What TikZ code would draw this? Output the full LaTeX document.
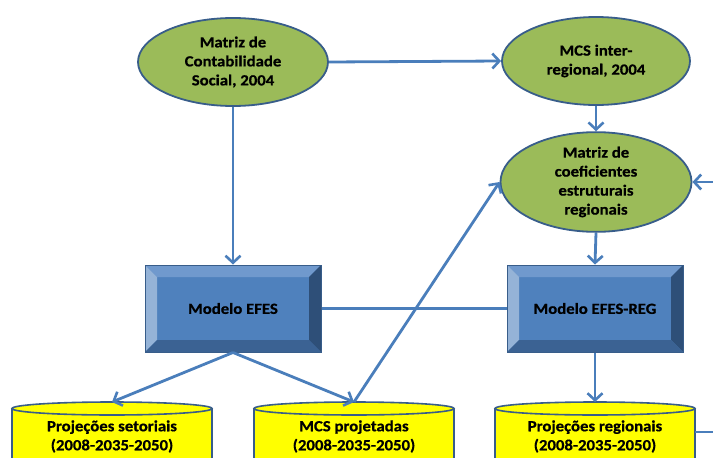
\documentclass[tikz,border=0pt]{standalone}
\usepackage{fontspec}
\setmainfont{Carlito}[BoldFeatures={FakeStretch=1.08,FakeBold=0.6}]
\usetikzlibrary{shapes.geometric,arrows.meta}
\definecolor{olv}{HTML}{9BBB59}
\definecolor{bordc}{HTML}{385D8A}
\definecolor{arrc}{HTML}{4A7EBB}
\definecolor{boxmid}{HTML}{4F81BD}
\definecolor{bevtop}{HTML}{7099CD}
\definecolor{bevleft}{HTML}{95B3D7}
\definecolor{bevright}{HTML}{2E4F78}
\definecolor{bevbot}{HTML}{3B6293}
\definecolor{cylf}{HTML}{FFFF00}
\tikzset{
  lbl/.style={font=\bfseries\fontsize{15.5}{19}\selectfont, align=center, text=black},
  oval/.style={ellipse, draw=bordc, line width=1.8pt, fill=olv, inner sep=0pt, lbl},
  bevbox/.style={rectangle, draw=bordc, line width=1pt, fill=boxmid, minimum width=176pt, minimum height=87pt, lbl,
    path picture={
      \fill[bevtop] (path picture bounding box.north west) -- (path picture bounding box.north east) -- ([shift={(-12pt,-12pt)}]path picture bounding box.north east) -- ([shift={(12pt,-12pt)}]path picture bounding box.north west) -- cycle;
      \fill[bevleft] (path picture bounding box.north west) -- (path picture bounding box.south west) -- ([shift={(12pt,12pt)}]path picture bounding box.south west) -- ([shift={(12pt,-12pt)}]path picture bounding box.north west) -- cycle;
      \fill[bevright] (path picture bounding box.north east) -- (path picture bounding box.south east) -- ([shift={(-12pt,12pt)}]path picture bounding box.south east) -- ([shift={(-12pt,-12pt)}]path picture bounding box.north east) -- cycle;
      \fill[bevbot] (path picture bounding box.south west) -- (path picture bounding box.south east) -- ([shift={(-12pt,12pt)}]path picture bounding box.south east) -- ([shift={(12pt,12pt)}]path picture bounding box.south west) -- cycle;
    }},
  cylshape/.style={fill=cylf, draw=bordc, line width=1.6pt},
  conn/.style={draw=arrc, line width=2.8pt},
  arr/.style={conn, -{Straight Barb[length=7pt,width=15pt,line width=2.6pt]}},
}
\newcommand{\mycyl}[1]{%
  \fill[cylf] (#1-100,408.5) rectangle (#1+100,480);
  \draw[bordc, line width=1.6pt] (#1-100,408.5) -- (#1-100,480) (#1+100,408.5) -- (#1+100,480);
  \filldraw[cylshape] (#1,408.5) ellipse [x radius=100, y radius=6.5];
}
\begin{document}
\begin{tikzpicture}[x=1pt,y=-1pt]
\useasboundingbox (0,0) rectangle (713,458);
\clip (0,0) rectangle (713,458);
% nodes
\node[oval, minimum width=190pt, minimum height=88pt] (m1) at (233,62) {Matriz de\\Contabilidade\\Social, 2004};
\node[oval, minimum width=188pt, minimum height=88pt] (m2) at (596,61) {MCS inter-\\regional, 2004};
\node[oval, minimum width=191pt, minimum height=91pt] (m3) at (596,182) {Matriz de\\coeficientes\\estruturais\\regionais};
\node[bevbox] (efes) at (233,308.5) {Modelo EFES};
\node[bevbox] (efesreg) at (595,308.5) {Modelo EFES-REG};
% cylinders
\mycyl{112}
\mycyl{354}
\mycyl{595}
\coordinate (ps) at (112,402);
\coordinate (mp) at (354,402);
\coordinate (pr) at (595,402);
\coordinate (prr) at (695,432);
\node[lbl] (pstxt) at (112,436.5) {Projeções setoriais\\(2008-2035-2050)};
\node[lbl] (mptxt) at (354,436.5) {MCS projetadas\\(2008-2035-2050)};
\node[lbl] (prtxt) at (595,436.5) {Projeções regionais\\(2008-2035-2050)};
\coordinate (rin) at (713,182);
\coordinate (rout) at (713,432);
% connectors
\draw[arr] (m1.east) -- (m2.west);
\draw[arr] (m2.south) -- (m3.north);
\draw[arr] (m1.south) -- (efes.north);
\draw[arr] (m3.south) -- (efesreg.north);
\draw[conn] (efes.east) -- (efesreg.west);
\draw[arr] (efesreg.south) -- (pr);
\draw[arr] (efes.south) -- (ps);
\draw[arr] (efes.south) -- (mp);
\draw[arr] (mp) -- (m3.west);
\draw[arr] (rin) -- (m3.east);
\draw[conn] (prr) -- (rout);
\end{tikzpicture}
\end{document}
